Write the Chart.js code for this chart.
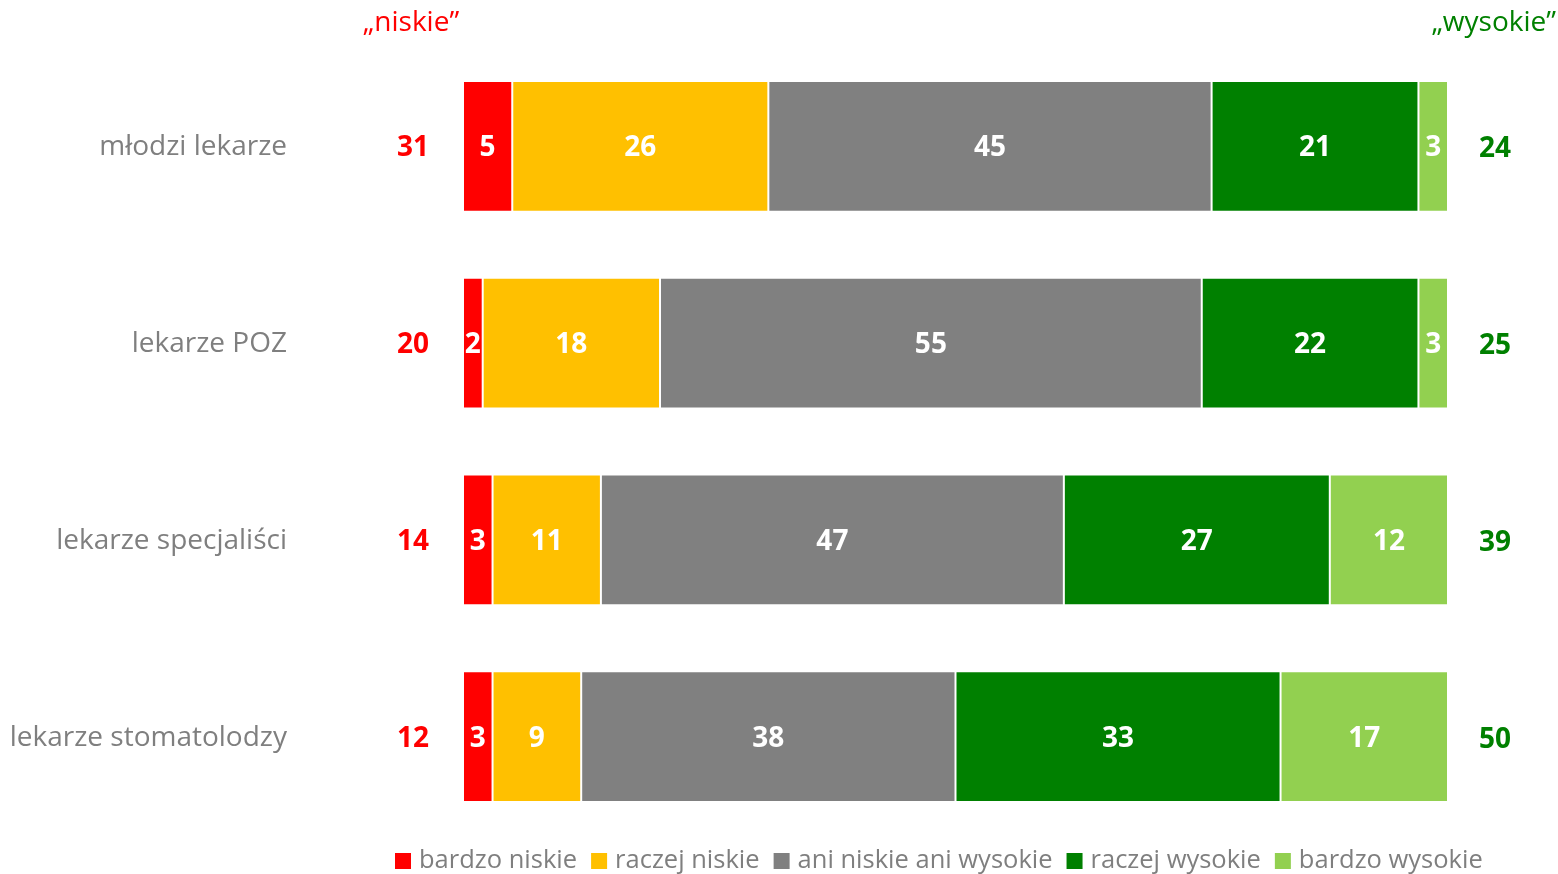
<!DOCTYPE html>
<html><head><meta charset="utf-8">
<script src="https://cdn.jsdelivr.net/npm/chart.js@4"></script>
<style>html,body{margin:0;padding:0;background:#fff;}#wrap{width:1558px;height:874px;}</style>
</head><body><div id="wrap"><canvas id="c" width="1558" height="874"></canvas></div>
<script>
const categories = ['młodzi lekarze', 'lekarze POZ', 'lekarze specjaliści', 'lekarze stomatolodzy'];
const seriesNames = ['bardzo niskie', 'raczej niskie', 'ani niskie ani wysokie', 'raczej wysokie', 'bardzo wysokie'];
const bardzoNiskie = [5, 2, 3, 3];
const raczejNiskie = [26, 18, 11, 9];
const aniNiskieAniWysokie = [45, 55, 47, 38];
const raczejWysokie = [21, 22, 27, 33];
const bardzoWysokie = [3, 3, 12, 17];
const lowTotals = [31, 20, 14, 12];
const highTotals = [24, 25, 39, 50];
const headerLow = '„niskie”';
const headerHigh = '„wysokie”';

const colors = ['#FF0000', '#FFC000', '#808080', '#008000', '#92D050'];
const seriesValues = [bardzoNiskie, raczejNiskie, aniNiskieAniWysokie, raczejWysokie, bardzoWysokie];
const FONT = "'Open Sans', sans-serif";

const overlay = {
  id: 'overlay',
  afterDatasetsDraw(chart) {
    const ctx = chart.ctx;
    const ys = chart.scales.y;
    ctx.save();
    ctx.textBaseline = 'middle';
    ctx.font = 'bold 28px ' + FONT;
    ctx.fillStyle = '#FFFFFF';
    ctx.textAlign = 'center';
    chart.data.datasets.forEach((ds, di) => {
      const meta = chart.getDatasetMeta(di);
      meta.data.forEach((bar, i) => {
        const p = bar.getProps(['x', 'y', 'base'], true);
        ctx.fillText(String(ds.data[i]), (p.x + p.base) / 2, p.y + 2);
      });
    });
    categories.forEach((c, i) => {
      const py = ys.getPixelForValue(i);
      ctx.font = '28px ' + FONT;
      ctx.fillStyle = '#7F7F7F';
      ctx.textAlign = 'right';
      ctx.fillText(c, 287, py + 1);
      ctx.font = 'bold 28px ' + FONT;
      ctx.textAlign = 'center';
      ctx.fillStyle = '#FF0000';
      ctx.fillText(String(lowTotals[i]), 413, py + 2);
      ctx.fillStyle = '#008000';
      ctx.fillText(String(highTotals[i]), 1495, py + 3);
    });
    ctx.font = '28px ' + FONT;
    ctx.textAlign = 'center';
    ctx.fillStyle = '#FF0000';
    ctx.fillText(headerLow, 411, 23);
    ctx.fillStyle = '#008000';
    ctx.textAlign = 'right';
    ctx.fillText(headerHigh, 1556, 23);
    ctx.font = '25.5px ' + FONT;
    ctx.textAlign = 'left';
    let x = 395;
    const ly = 861;
    chart.data.datasets.forEach((ds) => {
      ctx.fillStyle = ds.backgroundColor;
      ctx.fillRect(x, ly - 8, 16, 16);
      x += 24;
      ctx.fillStyle = '#7F7F7F';
      ctx.fillText(ds.label, x, ly);
      x += ctx.measureText(ds.label).width + 14;
    });
    ctx.restore();
  }
};

new Chart(document.getElementById('c'), {
  type: 'bar',
  data: {
    labels: categories,
    datasets: seriesNames.map((n, i) => ({
      label: n,
      data: seriesValues[i],
      backgroundColor: colors[i],
      borderColor: 'rgba(255,255,255,0.7)',
      borderWidth: 1,
      borderSkipped: false,
      barPercentage: 1,
      categoryPercentage: 0.665
    }))
  },
  options: {
    indexAxis: 'y',
    responsive: false,
    animation: false,
    layout: { padding: { top: 48, bottom: 39, right: 110, left: 0 } },
    plugins: { legend: { display: false }, tooltip: { enabled: false } },
    scales: {
      x: { stacked: true, min: 0, max: 100, display: false },
      y: {
        stacked: true,
        ticks: { display: false },
        grid: { display: false },
        border: { display: false },
        afterFit(scale) { scale.width = 463; }
      }
    }
  },
  plugins: [overlay]
});
</script>
</body></html>
